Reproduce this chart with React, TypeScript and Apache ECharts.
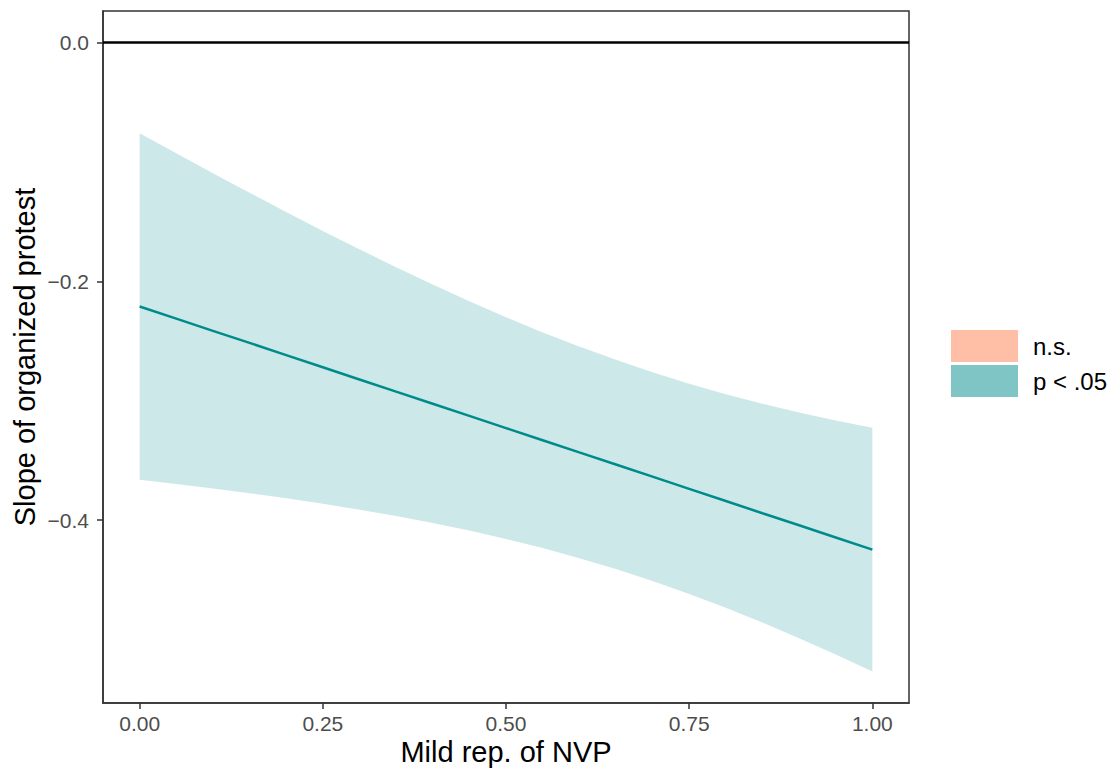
import React, { useEffect, useRef } from "react";
import * as echarts from "echarts";

// Moderator values (Mild rep. of NVP)
const xs = [0, 0.05, 0.1, 0.15, 0.2, 0.25, 0.3, 0.35, 0.4, 0.45, 0.5, 0.55, 0.6, 0.65, 0.7, 0.75, 0.8, 0.85, 0.9, 0.95, 1.0];
// Estimated slope of organized protest
const slope = [-0.2211, -0.2313, -0.2415, -0.2516, -0.2618, -0.272, -0.2822, -0.2924, -0.3025, -0.3127, -0.3229, -0.3331, -0.3433, -0.3534, -0.3636, -0.3738, -0.384, -0.3942, -0.4043, -0.4145, -0.4247];
// 95% confidence bounds
const upper = [-0.0761, -0.0929, -0.1096, -0.1258, -0.142, -0.1578, -0.1732, -0.1882, -0.2027, -0.2167, -0.2301, -0.2428, -0.2547, -0.2658, -0.2762, -0.2858, -0.2946, -0.3026, -0.3098, -0.3165, -0.3226];
const lower = [-0.3661, -0.3697, -0.3734, -0.3774, -0.3816, -0.3862, -0.3912, -0.3966, -0.4023, -0.4087, -0.4157, -0.4234, -0.4319, -0.441, -0.451, -0.4618, -0.4734, -0.4858, -0.4988, -0.5125, -0.5268];

const xTicks = [0, 0.25, 0.5, 0.75, 1];
const yTicks = [0, -0.2, -0.4];
const legendLabels = ["n.s.", "p < .05"];
const legendColors = ["#FFBFA7", "#80C5C5"];

const FONT = "Liberation Sans, Arial, Helvetica, sans-serif";

export default function App() {
  const ref = useRef<HTMLDivElement>(null);

  useEffect(() => {
    if (!ref.current) return;
    const chart = echarts.init(ref.current, undefined, { renderer: "svg" });

    const bandRows = xs.map((x, i) => [x, lower[i], upper[i]]);
    const lineRows = xs.map((x, i) => [x, slope[i]]);

    const gridLeft = 103;
    const gridTop = 11;
    const gridW = 806;
    const gridH = 692;

    const legendGraphics: any[] = [];
    legendLabels.forEach((lab, i) => {
      const top = 330 + i * 35;
      legendGraphics.push({
        type: "rect",
        left: 951,
        top,
        shape: { width: 67, height: 32 },
        style: { fill: legendColors[i] },
      });
      legendGraphics.push({
        type: "text",
        x: 1033,
        y: top + 16,
        style: {
          text: lab,
          fontFamily: FONT,
          fontSize: 24,
          fill: "#000000",
          textVerticalAlign: "middle",
          textAlign: "left",
        },
      });
    });

    const axisLineStyle = { color: "#333333", width: 1.5 };

    chart.setOption({
      animation: false,
      backgroundColor: "#ffffff",
      grid: {
        left: gridLeft,
        top: gridTop,
        width: gridW,
        height: gridH,
        show: true,
        borderColor: "#333333",
        borderWidth: 1.5,
        backgroundColor: "transparent",
        containLabel: false,
        outerBoundsMode: "none",
      },
      xAxis: {
        type: "value",
        min: -0.05,
        max: 1.05,
        axisLine: { show: true, onZero: false, lineStyle: axisLineStyle },
        splitLine: { show: false },
        axisTick: {
          show: true,
          length: 6,
          customValues: xTicks,
          lineStyle: axisLineStyle,
        },
        axisLabel: {
          customValues: xTicks,
          formatter: (v: number) => v.toFixed(2),
          fontFamily: FONT,
          fontSize: 21,
          color: "#4D4D4D",
          margin: 10,
        },
      },
      yAxis: {
        type: "value",
        min: -0.5531,
        max: 0.0263,
        axisLine: { show: true, onZero: false, lineStyle: axisLineStyle },
        splitLine: { show: false },
        axisTick: {
          show: true,
          length: 6,
          customValues: yTicks,
          lineStyle: axisLineStyle,
        },
        axisLabel: {
          customValues: yTicks,
          formatter: (v: number) => (v === 0 ? "0.0" : "\u2212" + Math.abs(v).toFixed(1)),
          fontFamily: FONT,
          fontSize: 21,
          color: "#4D4D4D",
          margin: 14,
        },
      },
      graphic: [
        {
          type: "text",
          x: gridLeft + gridW / 2,
          y: 752,
          style: {
            text: "Mild rep. of NVP",
            fontFamily: FONT,
            fontSize: 29,
            fill: "#000000",
            textAlign: "center",
            textVerticalAlign: "middle",
          },
        },
        {
          type: "text",
          x: 25,
          y: gridTop + gridH / 2,
          rotation: Math.PI / 2,
          style: {
            text: "Slope of organized protest",
            fontFamily: FONT,
            fontSize: 29,
            fill: "#000000",
            textAlign: "center",
            textVerticalAlign: "middle",
          },
        },
        ...legendGraphics,
      ],
      series: [
        {
          type: "custom",
          name: "p < .05",
          data: bandRows,
          encode: { x: 0, y: [1, 2] },
          z: 1,
          renderItem: (params: any, api: any) => {
            if (params.dataIndex !== 0) return null;
            const top = bandRows.map((r) => api.coord([r[0], r[2]]));
            const bottom = bandRows
              .slice()
              .reverse()
              .map((r) => api.coord([r[0], r[1]]));
            return {
              type: "polygon",
              shape: { points: top.concat(bottom) },
              style: { fill: "rgba(0,139,139,0.2)", stroke: "none" },
            };
          },
        },
        {
          type: "line",
          name: "slope",
          data: lineRows,
          showSymbol: false,
          symbol: "none",
          z: 3,
          lineStyle: { color: "#008B8B", width: 2.5 },
          markLine: {
            silent: true,
            symbol: "none",
            label: { show: false },
            lineStyle: { color: "#000000", width: 2.5, type: "solid" },
            data: [{ yAxis: 0 }],
          },
        },
      ],
    });

    return () => chart.dispose();
  }, []);

  return (
    <div
      ref={ref}
      style={{ position: "fixed", left: 0, top: 0, width: 1115, height: 774 }}
    />
  );
}
